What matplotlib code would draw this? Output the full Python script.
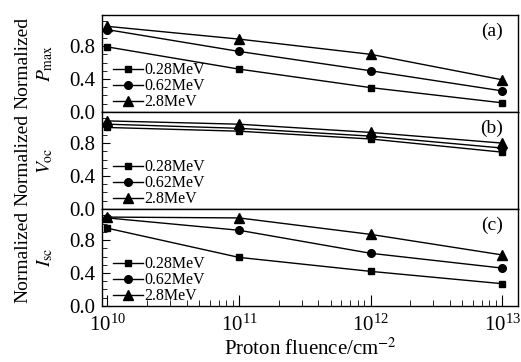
import numpy as np
import matplotlib
matplotlib.use("Agg")
import matplotlib.pyplot as plt
from matplotlib.ticker import MultipleLocator, LogLocator, NullFormatter

plt.rcParams['font.family'] = ['Liberation Serif', 'DejaVu Serif']
plt.rcParams['mathtext.fontset'] = 'stix'

# Data
fluence = [1e10, 1e11, 1e12, 1e13]
energies = ["0.28MeV", "0.62MeV", "2.8MeV"]

pmax_028 = [0.79, 0.52, 0.295, 0.11]
pmax_062 = [1.00, 0.735, 0.50, 0.255]
pmax_28 = [1.04, 0.885, 0.70, 0.39]

voc_028 = [0.99, 0.945, 0.85, 0.69]
voc_062 = [1.03, 0.98, 0.885, 0.74]
voc_28 = [1.07, 1.03, 0.93, 0.80]

isc_028 = [0.945, 0.59, 0.42, 0.27]
isc_062 = [1.07, 0.92, 0.64, 0.46]
isc_28 = [1.08, 1.07, 0.87, 0.62]

panels = [
    ("(a)", r"$P_{\rm max}$", [pmax_028, pmax_062, pmax_28]),
    ("(b)", r"$V_{\rm oc}$", [voc_028, voc_062, voc_28]),
    ("(c)", r"$I_{\rm sc}$", [isc_028, isc_062, isc_28]),
]
markers = ["s", "o", "^"]
msizes = [5, 5.5, 6.5]

fig = plt.figure(figsize=(5.21, 3.62), dpi=100)
gs = fig.add_gridspec(3, 1, left=0.196, right=0.994, bottom=0.155, top=0.959, hspace=0)

for i, (tag, qty, series) in enumerate(panels):
    ax = fig.add_subplot(gs[i])
    for vals, lab, m, ms in zip(series, energies, markers, msizes):
        ax.plot(fluence, vals, color="black", lw=1, marker=m, ms=ms, label=lab)
    ax.set_xscale("log")
    ax.set_xlim(10**9.96, 10**13.12)
    ax.set_ylim(0, 1.18)
    ax.yaxis.set_major_locator(MultipleLocator(0.4))
    ax.yaxis.set_minor_locator(MultipleLocator(0.1))
    ax.tick_params(axis="y", which="major", direction="in", length=6, labelsize=15, pad=5, right=False)
    ax.tick_params(axis="y", which="minor", direction="in", length=3.5, right=False)
    ax.set_ylabel("Normalized\n" + qty, fontsize=14, linespacing=1.25)
    ax.yaxis.set_label_coords(-0.113, 0.5)
    ax.text(0.965, 0.83, tag, transform=ax.transAxes, ha="right", va="center", fontsize=14)
    ax.legend(loc="lower left", bbox_to_anchor=(0.018, -0.015), frameon=False, fontsize=11.5,
              handlelength=1.9, handletextpad=0.1, labelspacing=0.0, borderaxespad=0,
              borderpad=0.2)
    for s in ax.spines.values():
        s.set_linewidth(1)
    if i < 2:
        ax.tick_params(axis="x", which="both", bottom=False, top=False, labelbottom=False)
    else:
        ax.xaxis.set_major_locator(LogLocator(base=10, numticks=10))
        ax.xaxis.set_minor_locator(LogLocator(base=10, subs=np.arange(2, 10), numticks=20))
        ax.xaxis.set_minor_formatter(NullFormatter())
        ax.tick_params(axis="x", which="major", direction="in", length=8, labelsize=15, top=False, pad=6)
        ax.tick_params(axis="x", which="minor", direction="in", length=4, top=False)
        ax.set_xlabel("Proton fluence/cm$^{-2}$", fontsize=15, labelpad=2)

fig.savefig("out.png", dpi=100)
